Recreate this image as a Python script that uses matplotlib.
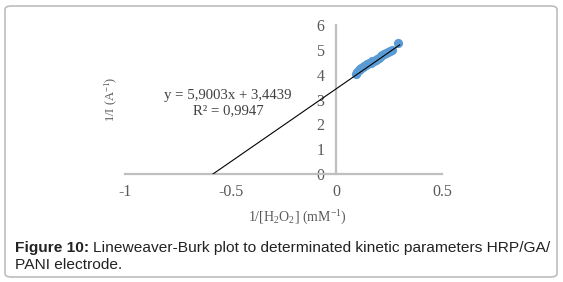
import matplotlib
matplotlib.use("Agg")
import matplotlib.pyplot as plt
from matplotlib.patches import FancyBboxPatch
import numpy as np

# data
inv_h2o2 = [0.092, 0.100, 0.106, 0.112, 0.118, 0.125, 0.132, 0.140, 0.147, 0.155,
            0.162, 0.170, 0.178, 0.186, 0.194, 0.202, 0.210, 0.218, 0.226, 0.235,
            0.244, 0.252, 0.262, 0.292]
inv_i = [4.05, 4.12, 4.18, 4.22, 4.28, 4.33, 4.38, 4.42, 4.45, 4.48,
         4.50, 4.55, 4.58, 4.62, 4.66, 4.70, 4.75, 4.80, 4.86, 4.90,
         4.93, 4.97, 5.00, 5.30]
slope = 5.9003
intercept = 3.4439
r2 = 0.9947
xticks = [-1, -0.5, 0, 0.5]
yticks = [0, 1, 2, 3, 4, 5, 6]

W, H = 563, 282
plt.rcParams['mathtext.fontset'] = 'custom'
plt.rcParams['mathtext.rm'] = 'Liberation Serif'
plt.rcParams['mathtext.it'] = 'Liberation Serif:italic'

fig = plt.figure(figsize=(W / 100, H / 100), dpi=100)

# rounded frame around the whole figure
frame = FancyBboxPatch((5 / W, 5 / H), 552 / W, 271 / H, boxstyle="round,pad=0,rounding_size=0.012",
                       transform=fig.transFigure, fill=False, edgecolor='#bdbdbd', linewidth=1.2)
fig.patches.append(frame)

# axes placed by pixel positions
x0, x1 = 125, 442
y0, y1 = 174, 25.4
ax = fig.add_axes([x0 / W, (H - y0) / H, (x1 - x0) / W, (y0 - y1) / H])
ax.set_xlim(-1, 0.5)
ax.set_ylim(0, 6)
ax.patch.set_alpha(0)

axc = '#bfbfbf'
for s in ['top', 'right']:
    ax.spines[s].set_visible(False)
ax.spines['left'].set_position(('data', 0))
ax.spines['bottom'].set_position(('data', 0))
for s in ['left', 'bottom']:
    ax.spines[s].set_color(axc)
    ax.spines[s].set_linewidth(1.6)

ax.set_xticks(xticks)
ax.set_xticklabels([str(t) for t in xticks])
ax.set_yticks(yticks)
ax.tick_params(length=0, labelsize=11.5, labelcolor='#595959')
ax.tick_params(axis='x', pad=7)
ax.tick_params(axis='y', pad=8.5)
for lab in ax.get_xticklabels() + ax.get_yticklabels():
    lab.set_family('Liberation Serif')

ax.scatter(inv_h2o2, inv_i, s=44, color='#5b9bd5', zorder=3, linewidths=0)
xl = np.array([-intercept / slope, 0.3])
ax.plot(xl, slope * xl + intercept, color='black', linewidth=0.8, zorder=4)

fig.text(228 / W, 1 - 95 / H, "y = 5,9003x + 3,4439", ha='center', va='center',
         family='Liberation Serif', fontsize=10.6, color='#404040')
fig.text(228 / W, 1 - 110.5 / H, "R² = 0,9947", ha='center', va='center',
         family='Liberation Serif', fontsize=10.6, color='#404040')

fig.text(297 / W, 1 - 218 / H, "1/[H$_2$O$_2$] (mM$^{-1}$)", ha='center', va='center',
         family='Liberation Serif', fontsize=10, color='#595959')
fig.text(111 / W, 1 - 99 / H, "1/I (A$^{-1}$)", ha='center', va='center', rotation=90,
         family='Liberation Serif', fontsize=9, color='#595959')

cap_fs = 11.15
t1 = fig.text(15 / W, 1 - 248 / H, "Figure 10:", ha='left', va='center', family='Liberation Sans',
              fontweight='bold', fontsize=cap_fs, color='#222222')
r = fig.canvas.get_renderer()
bb = t1.get_window_extent(renderer=r)
fig.text((bb.x1 + 4) / W, 1 - 248 / H, "Lineweaver-Burk plot to determinated kinetic parameters HRP/GA/",
         ha='left', va='center', family='Liberation Sans', fontsize=cap_fs, color='#222222')
fig.text(15 / W, 1 - 265 / H, "PANI electrode.", ha='left', va='center', family='Liberation Sans',
         fontsize=cap_fs, color='#222222')

fig.savefig("out.png", dpi=100)
